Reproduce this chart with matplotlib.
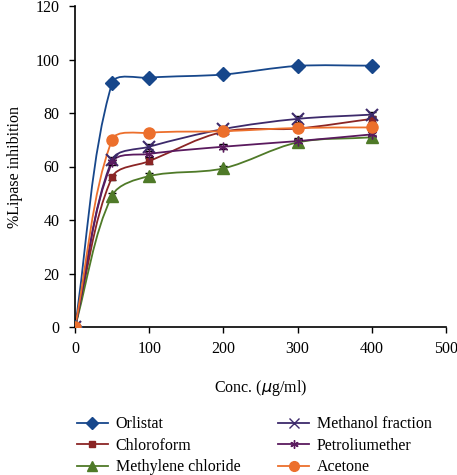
import numpy as np
import matplotlib.pyplot as plt
from matplotlib.path import Path
from matplotlib.patches import PathPatch
from matplotlib.lines import Line2D

plt.rcParams['font.family'] = ['Liberation Serif', 'DejaVu Serif']

conc = [0, 50, 100, 200, 300, 400]

orlistat = [0, 91.2, 93.2, 94.4, 97.6, 97.7]
chloroform = [0, 56.0, 62.0, 73.0, 74.2, 77.8]
methylene = [0, 49.1, 56.4, 59.3, 69.0, 70.9]
methanol = [0, 62.5, 67.4, 74.0, 77.8, 79.4]
petroleum = [0, 61.5, 64.7, 67.4, 69.5, 72.0]
acetone = [0, 70.0, 72.6, 73.2, 74.4, 74.6]

err = [0, 1.0, 1.0, 1.0, 1.0, 1.0]

labels = ['Orlistat', 'Chloroform', 'Methylene chloride',
          'Methanol fraction', 'Petroliumether', 'Acetone']
series = [orlistat, chloroform, methylene, methanol, petroleum, acetone]
colors = ['#17478b', '#8b2525', '#4f7a28', '#3d2a6b', '#5a1a5e', '#ec6f2c']
markers = ['D', 's', '^', 'x', (6, 2, 0), 'o']
msizes = [7, 5, 8, 8, 7, 8]


def smooth_path(x, y, sx, sy):
    # excel-like smoothed line, bezier control points from neighbours
    p = np.column_stack([np.asarray(x) * sx, np.asarray(y) * sy])
    n = len(p)
    verts = [p[0]]
    codes = [Path.MOVETO]
    for i in range(n - 1):
        p0 = p[max(i - 1, 0)]
        p1 = p[i]
        p2 = p[i + 1]
        p3 = p[min(i + 2, n - 1)]
        d0 = np.hypot(*(p1 - p0))
        d1 = np.hypot(*(p2 - p1))
        d2 = np.hypot(*(p3 - p2))
        f1 = d1 / (d0 + d1) / 3 if d0 + d1 > 0 else 0
        f2 = d1 / (d1 + d2) / 3 if d1 + d2 > 0 else 0
        c1 = p1 + (p2 - p0) * f1
        c2 = p2 - (p3 - p1) * f2
        verts += [c1, c2, p2]
        codes += [Path.CURVE4] * 3
    verts = np.array(verts) / [sx, sy]
    return Path(verts, codes)


fig = plt.figure(figsize=(4.57, 4.75), dpi=100)
ax = fig.add_axes([75 / 457, 1 - 327 / 475, 371 / 457, 321 / 475])

sx = 371 / 500
sy = 321 / 120
handles = []
for yv, lab, c, m, ms in zip(series, labels, colors, markers, msizes):
    ax.add_patch(PathPatch(smooth_path(conc, yv, sx, sy), facecolor='none',
                           edgecolor=c, lw=1.3, zorder=2))
    ax.errorbar(conc, yv, yerr=err, fmt='none', ecolor='black', elinewidth=0.8,
                capsize=3, capthick=1, zorder=3)
    ax.plot(conc, yv, linestyle='none', marker=m, color=c, markersize=ms,
            markeredgewidth=1.5 if m == 'x' else 1, zorder=4)
    handles.append(Line2D([], [], color=c, lw=1.3, marker=m, markersize=ms - 1,
                          label=lab))

ax.set_xlim(0, 500)
ax.set_ylim(0, 120)
ax.set_xticks([0, 100, 200, 300, 400, 500])
ax.set_yticks([0, 20, 40, 60, 80, 100, 120])
ax.spines['top'].set_visible(False)
ax.spines['right'].set_visible(False)
ax.spines['left'].set_linewidth(1.2)
ax.spines['bottom'].set_linewidth(1.2)
ax.tick_params(direction='out', length=4, width=1, labelsize=11.5)
ax.tick_params(axis='x', pad=6)
ax.tick_params(axis='y', pad=7)
ax.set_xlabel('Conc. ($\\mu$g/ml)', fontsize=11.5, labelpad=15)
ax.set_ylabel('%Lipase inhibition', fontsize=11.5, labelpad=9)

fig.legend(handles=handles, ncol=2, loc='upper left',
           bbox_to_anchor=(66 / 457, 1 - 405 / 475), frameon=False,
           fontsize=11.5, handlelength=1.9, columnspacing=2.4,
           labelspacing=0.35, handletextpad=0.5, borderpad=0.2)

fig.savefig('out.png', dpi=100)
